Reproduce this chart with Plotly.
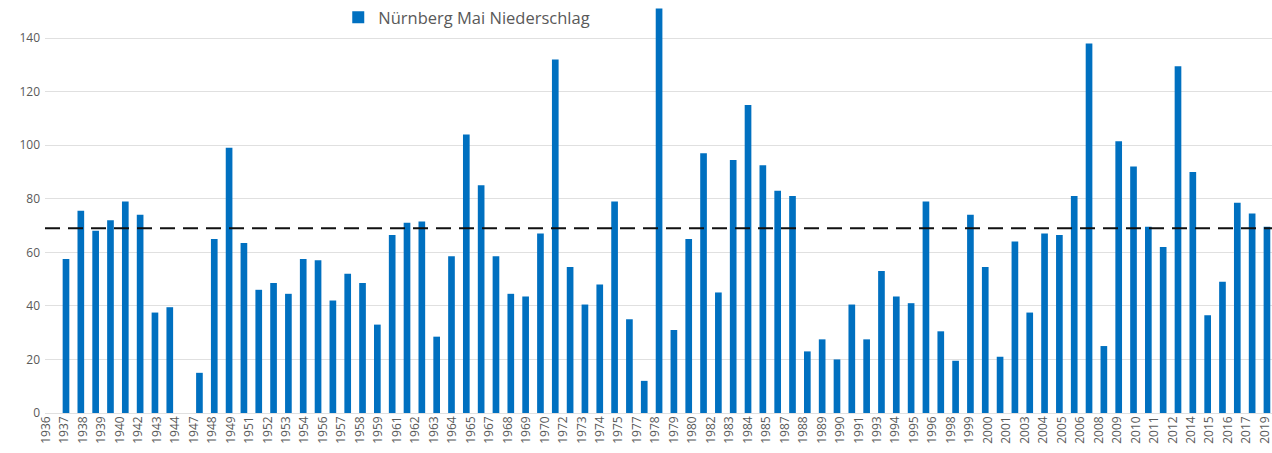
import plotly.graph_objects as go

# ---------------- data ----------------
categories = (
    [str(y) for y in range(1937, 1945)]
    + ["1945/46"]
    + [str(y) for y in range(1947, 2020)]
)

values = [
    57.5, 75.5, 68, 72, 79, 74, 37.5, 39.5,          # 1937-1944
    None,                                            # 1945/46 (no data)
    15, 65, 99, 63.5, 46, 48.5, 44.5, 57.5, 57, 42,  # 1947-1956
    52, 48.5, 33, 66.5, 71, 71.5, 28.5, 58.5, 104, 85,  # 1957-1966
    58.5, 44.5, 43.5, 67, 132, 54.5, 40.5, 48, 79, 35,  # 1967-1976
    12, 151, 31, 65, 97, 45, 94.5, 115, 92.5, 83,    # 1977-1986
    81, 23, 27.5, 20, 40.5, 27.5, 53, 43.5, 41, 79,  # 1987-1996
    30.5, 19.5, 74, 54.5, 21, 64, 37.5, 67, 66.5, 81,  # 1997-2006
    138, 25, 101.5, 92, 69.5, 62, 129.5, 90, 36.5, 49,  # 2007-2016
    78.5, 74.5, 69.5,                                # 2017-2019
]

tick_labels = [
    "1936", "1937", "1938", "1939", "1940", "1942", "1943", "1944", "1947",
    "1948", "1949", "1951", "1952", "1953", "1954", "1956", "1957", "1958",
    "1959", "1961", "1962", "1963", "1964", "1965", "1967", "1968", "1969",
    "1970", "1972", "1973", "1974", "1975", "1977", "1978", "1979", "1980",
    "1982", "1983", "1984", "1985", "1987", "1988", "1989", "1990", "1991",
    "1993", "1994", "1995", "1996", "1998", "1999", "2000", "2001", "2003",
    "2004", "2005", "2006", "2008", "2009", "2010", "2011", "2012", "2014",
    "2015", "2016", "2017", "2019",
]

y_ticks = [0, 20, 40, 60, 80, 100, 120, 140]
mean_value = 69
series_name = "Nürnberg Mai Niederschlag"

# ---------------- styling ----------------
BLUE = "#0070C0"
GRAY_TEXT = "#595959"
GRID = "#e0e0e0"
FONT = "Open Sans"

fig = go.Figure()

fig.add_trace(go.Bar(
    x=categories,
    y=values,
    name=series_name,
    marker=dict(color=BLUE, line=dict(width=0)),
    width=0.45,
    xaxis="x",
    yaxis="y",
))

# invisible helper trace so the label axis is drawn
label_positions = list(range(len(tick_labels)))
fig.add_trace(go.Scatter(
    x=label_positions,
    y=[0] * len(label_positions),
    xaxis="x2",
    yaxis="y",
    mode="markers",
    marker=dict(opacity=0, size=1),
    hoverinfo="skip",
    showlegend=False,
))

fig.add_hline(
    y=mean_value,
    line=dict(color="#111111", width=2, dash="15px,8px"),
    layer="above",
)

fig.update_layout(
    width=1272,
    height=453,
    margin=dict(l=45, r=0, t=0, b=40),
    paper_bgcolor="white",
    plot_bgcolor="white",
    font=dict(family=FONT, color=GRAY_TEXT),
    showlegend=True,
    legend=dict(
        x=0.239, y=1.0, xanchor="left", yanchor="top",
        orientation="h",
        bgcolor="rgba(0,0,0,0)",
        font=dict(family=FONT, size=16.5, color=GRAY_TEXT),
        itemwidth=30,
    ),
    xaxis=dict(
        type="category",
        categoryorder="array",
        categoryarray=categories,
        range=[-1.416, 81.34],
        showticklabels=False,
        showgrid=False,
        zeroline=False,
        showline=False,
        ticks="",
    ),
    xaxis2=dict(
        overlaying="x",
        anchor="y",
        side="bottom",
        type="linear",
        range=[-0.054, 66.38],
        tickmode="array",
        tickvals=label_positions,
        ticktext=tick_labels,
        tickangle=-90,
        ticklabeloverflow="allow",
        tickfont=dict(family=FONT, size=12, color=GRAY_TEXT),
        showgrid=False,
        zeroline=False,
        showline=False,
        ticks="",
    ),
    yaxis=dict(
        range=[0, 154.2],
        tickmode="array",
        tickvals=y_ticks,
        tickfont=dict(family=FONT, size=12, color=GRAY_TEXT),
        ticklabelstandoff=4,
        showgrid=True,
        gridcolor=GRID,
        gridwidth=1,
        zeroline=True,
        zerolinecolor=GRID,
        zerolinewidth=1,
        showline=False,
        ticks="",
    ),
)

fig.write_html(
    "out.html",
    config={"displayModeBar": False},
    post_script="document.body.style.margin='0';",
)
